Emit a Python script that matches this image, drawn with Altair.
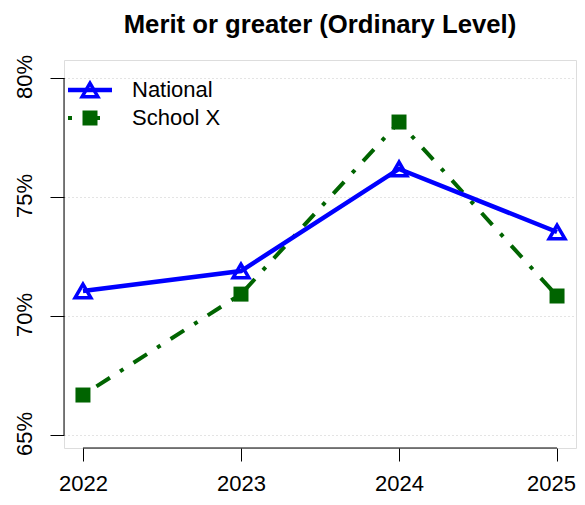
import altair as alt
import pandas as pd

years = [2022, 2023, 2024, 2025]
national = [71.05, 71.89, 76.18, 73.53]
school_x = [66.68, 70.92, 78.15, 70.84]
series_names = ["National", "School X"]
y_ticks = [65, 70, 75, 80]
title_text = ["Merit or greater (Ordinary Level)"]

BLUE = "#0000FF"
GREEN = "#006400"
FONT = "Liberation Sans"

W, H = 512, 388

df_nat = pd.DataFrame({"year": years, "value": national})
df_sch = pd.DataFrame({"year": years, "value": school_x})
df_yline = pd.DataFrame({"lo": [min(y_ticks)], "hi": [max(y_ticks)]})
df_xline = pd.DataFrame({"lo": [min(years)], "hi": [max(years)]})
df_title = pd.DataFrame({"t": title_text})

xscale = alt.Scale(domain=[2021.88, 2025.12], nice=False, zero=False)
yscale = alt.Scale(domain=[64.454, 80.756], nice=False, zero=False)

xaxis = alt.Axis(values=years, format="d", title=None, grid=False, domain=False,
                 tickSize=13, tickColor="black", tickWidth=1,
                 labelFontSize=22, labelFont=FONT, labelColor="black",
                 labelPadding=12, labelFlush=False,
                 labelOffset={"condition": {"test": f"datum.value == {max(years)}", "value": -6},
                              "value": 0})
yaxis = alt.Axis(values=y_ticks, title=None, grid=True, gridDash=[1, 3],
                 gridColor="#c8c8c8", gridWidth=1, domain=False,
                 tickSize=14, tickColor="black", tickWidth=1,
                 labelExpr="datum.value + '%'", labelAngle=270,
                 labelAlign="center", labelBaseline="alphabetic",
                 labelFontSize=22, labelFont=FONT, labelColor="black",
                 labelPadding=19, labelOffset=-1.5)

X = lambda f="year": alt.X(f"{f}:Q", scale=xscale, axis=xaxis)
Y = lambda f="value": alt.Y(f"{f}:Q", scale=yscale, axis=yaxis)

y_line = alt.Chart(df_yline).mark_rule(color="black", strokeWidth=1).encode(
    x=alt.value(0), y=Y("lo"), y2="hi")
x_line = alt.Chart(df_xline).mark_rule(color="black", strokeWidth=1).encode(
    x=X("lo"), x2="hi", y=alt.value(H))

dash = [4, 12, 16, 12]
TRI = dict(shape="triangle-up", filled=False, color=BLUE, strokeWidth=3.5, size=250, opacity=1)
SQ = dict(shape="square", filled=True, color=GREEN, size=225, opacity=1)

sch_line = alt.Chart(df_sch).mark_line(color=GREEN, strokeWidth=4, strokeDash=dash).encode(
    x=X(), y=Y())
nat_line = alt.Chart(df_nat).mark_line(color=BLUE, strokeWidth=4.5).encode(
    x=X(), y=Y())
nat_pts = alt.Chart(df_nat).mark_point(**TRI).encode(x=X(), y=Y())
sch_pts = alt.Chart(df_sch).mark_point(**SQ).encode(x=X(), y=Y())

title = alt.Chart(df_title).mark_text(align="center", baseline="alphabetic", fontSize=25.7,
                                      fontWeight="bold", font=FONT, color="black").encode(
    x=alt.value(W / 2), y=alt.value(-27), text="t:N")

# legend
leg_nat = pd.DataFrame({"name": [series_names[0]]})
leg_sch = pd.DataFrame({"name": [series_names[1]]})
l1y, l2y = 30, 58
leg = [
    alt.Chart(leg_nat).mark_rule(color=BLUE, strokeWidth=4.5).encode(
        x=alt.value(4), x2=alt.value(48), y=alt.value(l1y)),
    alt.Chart(leg_nat).mark_point(**TRI).encode(x=alt.value(26), y=alt.value(l1y)),
    alt.Chart(leg_nat).mark_text(align="left", baseline="middle", fontSize=22, font=FONT,
                                 color="black").encode(
        x=alt.value(68), y=alt.value(l1y), text="name:N"),
    alt.Chart(leg_sch).mark_rule(color=GREEN, strokeWidth=4, strokeDash=dash).encode(
        x=alt.value(4), x2=alt.value(48), y=alt.value(l2y)),
    alt.Chart(leg_sch).mark_point(**SQ).encode(x=alt.value(26), y=alt.value(l2y)),
    alt.Chart(leg_sch).mark_text(align="left", baseline="middle", fontSize=22, font=FONT,
                                 color="black").encode(
        x=alt.value(68), y=alt.value(l2y), text="name:N"),
]

chart = alt.layer(y_line, x_line, sch_line, nat_line, nat_pts, sch_pts, title, *leg).properties(
    width=W, height=H,
    autosize=alt.AutoSizeParams(type="none"),
    padding={"left": 56, "top": 52, "right": 1, "bottom": 49},
).configure_view(stroke=None).configure(background="white")

chart.save("out.html", embed_options={"renderer": "svg", "actions": False})
